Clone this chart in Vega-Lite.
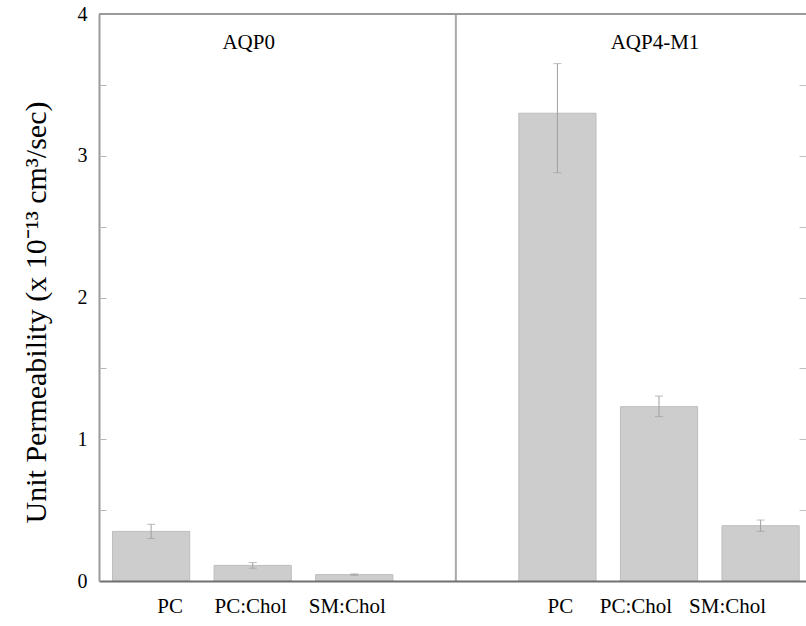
{
  "$schema": "https://vega.github.io/schema/vega-lite/v6.json",
  "width": 707,
  "height": 567,
  "autosize": {"type": "none"},
  "padding": {"left": 99, "top": 14, "right": 0, "bottom": 45},
  "background": "white",
  "config": {
    "view": {"stroke": null},
    "font": "Liberation Serif",
    "axis": {"labelFont": "Liberation Serif", "titleFont": "Liberation Serif", "grid": false}
  },
  "datasets": {
    "bars": [
      {"key": "AQP0|PC", "protein": "AQP0", "lipid": "PC", "value": 0.35, "lo": 0.30, "hi": 0.40},
      {"key": "AQP0|PC:Chol", "protein": "AQP0", "lipid": "PC:Chol", "value": 0.11, "lo": 0.09, "hi": 0.13},
      {"key": "AQP0|SM:Chol", "protein": "AQP0", "lipid": "SM:Chol", "value": 0.045, "lo": 0.04, "hi": 0.05},
      {"key": "AQP4-M1|PC", "protein": "AQP4-M1", "lipid": "PC", "value": 3.30, "lo": 2.88, "hi": 3.65},
      {"key": "AQP4-M1|PC:Chol", "protein": "AQP4-M1", "lipid": "PC:Chol", "value": 1.23, "lo": 1.16, "hi": 1.305},
      {"key": "AQP4-M1|SM:Chol", "protein": "AQP4-M1", "lipid": "SM:Chol", "value": 0.39, "lo": 0.35, "hi": 0.43}
    ],
    "groups": [
      {"key": "AQP0|PC:Chol", "label": "AQP0"},
      {"key": "AQP4-M1|PC:Chol", "label": "AQP4-M1"}
    ],
    "divider": [{"key": "gap"}]
  },
  "resolve": {"axis": {"y": "independent"}},
  "layer": [
    {
      "data": {"name": "bars"},
      "mark": {"type": "bar", "color": "#cdcdcd", "stroke": "#bdbdbd", "strokeWidth": 1},
      "encoding": {
        "x": {
          "field": "key", "type": "nominal",
          "scale": {
            "domain": ["AQP0|PC", "AQP0|PC:Chol", "AQP0|SM:Chol", "gap", "AQP4-M1|PC", "AQP4-M1|PC:Chol", "AQP4-M1|SM:Chol"],
            "paddingInner": 0.24, "paddingOuter": 0.1, "align": 0.665
          },
          "axis": {
            "title": null,
            "labelExpr": "indexof(datum.label,'|') >= 0 ? split(datum.label,'|')[1] : ''",
            "labelAngle": 0,
            "labelFontSize": 21,
            "labelColor": "#000000",
            "labelPadding": 14,
            "ticks": false,
            "domainColor": "#707070",
            "domainWidth": 2,
            "zindex": 1,
            "labelOffset": {
              "condition": [
                {"test": "datum.value === 'AQP0|PC'", "value": 19},
                {"test": "datum.value === 'AQP0|SM:Chol'", "value": -7},
                {"test": "datum.value === 'AQP4-M1|PC'", "value": 3},
                {"test": "datum.value === 'AQP4-M1|PC:Chol'", "value": -23},
                {"test": "datum.value === 'AQP4-M1|SM:Chol'", "value": -33}
              ],
              "value": -2
            }
          }
        },
        "y": {
          "field": "value", "type": "quantitative",
          "scale": {"domain": [0, 4], "nice": false},
          "axis": {
            "title": "Unit Permeability  (x 10⁻¹³ cm³/sec)",
            "titleFontSize": 30,
            "titleFontWeight": "normal",
            "titleColor": "#000000",
            "titleX": -63,
            "titleY": 298,
            "titleAngle": -90,
            "titleAlign": "center",
            "titleBaseline": "middle",
            "values": [0, 1, 2, 3, 4],
            "format": "d",
            "labelFontSize": 20,
            "labelColor": "#000000",
            "labelPadding": 12,
            "ticks": false,
            "domainColor": "#9a9a9a",
            "domainWidth": 2,
            "zindex": 1
          }
        }
      }
    },
    {
      "data": {"name": "bars"},
      "mark": {"type": "errorbar", "ticks": {"size": 8, "color": "#a0a0a0", "strokeWidth": 1}, "rule": {"color": "#a0a0a0", "strokeWidth": 1}},
      "encoding": {
        "x": {"field": "key", "type": "nominal"},
        "y": {
          "field": "lo", "type": "quantitative",
          "axis": {
            "orient": "left", "offset": -7, "title": null, "labels": false, "domain": false,
            "values": [0.5, 1, 1.5, 2, 2.5, 3, 3.5],
            "tickSize": 7, "tickColor": "#b5b5b5", "tickWidth": 1, "zindex": 1
          }
        },
        "y2": {"field": "hi"}
      }
    },
    {
      "data": {"name": "divider"},
      "mark": {"type": "rule", "color": "#a8a8a8", "strokeWidth": 2},
      "encoding": {"x": {"field": "key", "type": "nominal"}}
    },
    {
      "data": {"name": "divider"},
      "mark": {"type": "rule", "color": "#9a9a9a", "strokeWidth": 2},
      "encoding": {
        "y": {
          "datum": 4,
          "axis": {
            "orient": "right", "offset": -7, "title": null, "labels": false, "domain": false,
            "values": [0.5, 1, 1.5, 2, 2.5, 3, 3.5],
            "tickSize": 7, "tickColor": "#c0c0c0", "tickWidth": 1, "zindex": 1
          }
        }
      }
    },
    {
      "data": {"name": "groups"},
      "mark": {"type": "text", "fontSize": 21, "font": "Liberation Serif", "color": "#000000", "baseline": "alphabetic", "dx": -4},
      "encoding": {
        "x": {"field": "key", "type": "nominal"},
        "y": {"datum": 3.75, "axis": null},
        "text": {"field": "label"}
      }
    }
  ]
}
